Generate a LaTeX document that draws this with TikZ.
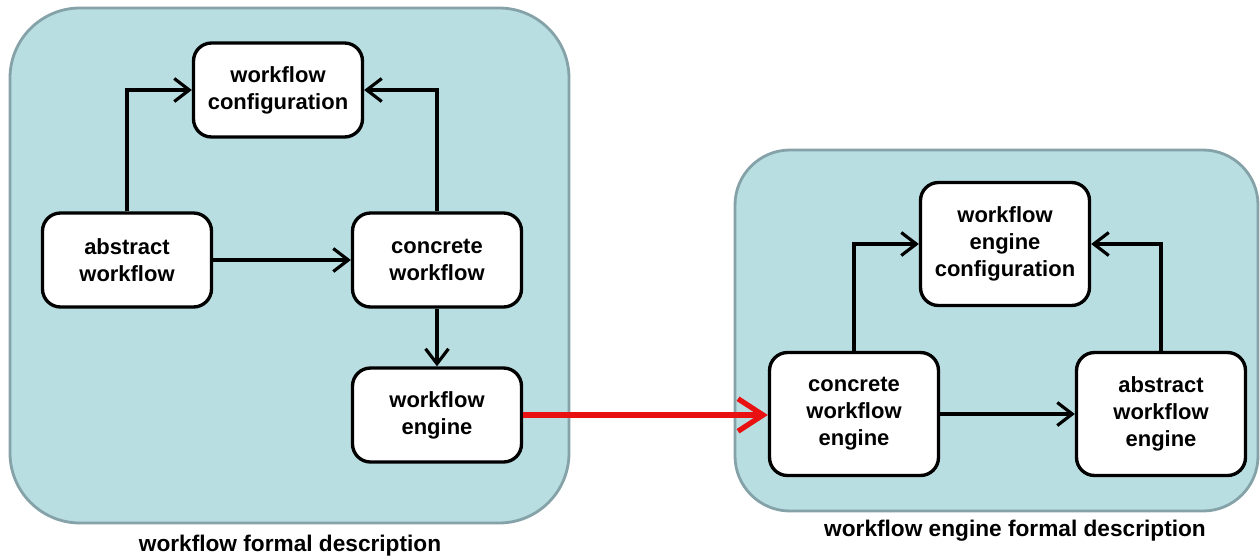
\documentclass[tikz,border=0pt]{standalone}
\usepackage{fontspec}
\setsansfont{Liberation Sans}
\usepackage{tikz}
\usetikzlibrary{positioning, calc}
\usetikzlibrary{arrows.meta}

\definecolor{panelfill}{RGB}{184,222,226}
\definecolor{paneledge}{RGB}{132,162,167}
\definecolor{flowred}{RGB}{232,16,16}

\tikzset{
  panel/.style={draw=paneledge, line width=1.6pt, fill=panelfill},
  block/.style={draw, line width=1.9pt, fill=white, rounded corners=0.36cm, align=center,
    minimum width=3.38cm, minimum height=1.88cm, font=\sffamily\bfseries\fontsize{12.5}{15.3}\selectfont},
  tall/.style={minimum height=2.46cm},
  link/.style={-{Straight Barb[length=3mm, width=4.6mm]}, line width=1.8pt},
  caption/.style={font=\sffamily\bfseries\fontsize{12.9}{15}\selectfont}
}

\begin{document}
\begin{tikzpicture}[x=0.02cm, y=-0.02cm, font=\sffamily]

% Manually size the picture
\useasboundingbox (0, 0) rectangle (1260, 559);

% Panels
\draw[panel, rounded corners=1.4cm] (10, 8) rectangle (569, 523);
\draw[panel, rounded corners=1.1cm] (735, 150) rectangle (1258, 511);

% Left panel nodes
\node[block] (wfconf) at (278, 90) {workflow\\configuration};
\node[block] (abswf) at (127, 260) {abstract\\workflow};
\node[block] (conwf) at (437, 260) {concrete\\workflow};
\node[block] (wfeng) at (437, 415) {workflow\\engine};

% Left panel links
\draw[link] (abswf.north) |- (wfconf.west);
\draw[link] (conwf.north) |- (wfconf.east);
\draw[link] (abswf.east) -- (conwf.west);
\draw[link] (conwf.south) -- (wfeng.north);

% Right panel nodes
\node[block, tall] (engconf) at (1005, 244) {workflow\\engine\\configuration};
\node[block, tall] (coneng) at (854, 414) {concrete\\workflow\\engine};
\node[block, tall] (abseng) at (1161, 414) {abstract\\workflow\\engine};

% Right panel links
\draw[link] (coneng.north) |- (engconf.west);
\draw[link] (abseng.north) |- (engconf.east);
\draw[link] (coneng.east) -- (abseng.west);

% Red link between panels
\draw[-{Straight Barb[length=5mm, width=6.5mm]}, line width=3pt, flowred]
  (wfeng.east) -- (wfeng.east -| coneng.west);

% Captions
\node[caption] (leftcap) at (290, 546) {workflow formal description};
\node[caption] (rightcap) at (1015, 531) {workflow engine formal description};

\end{tikzpicture}
\end{document}
